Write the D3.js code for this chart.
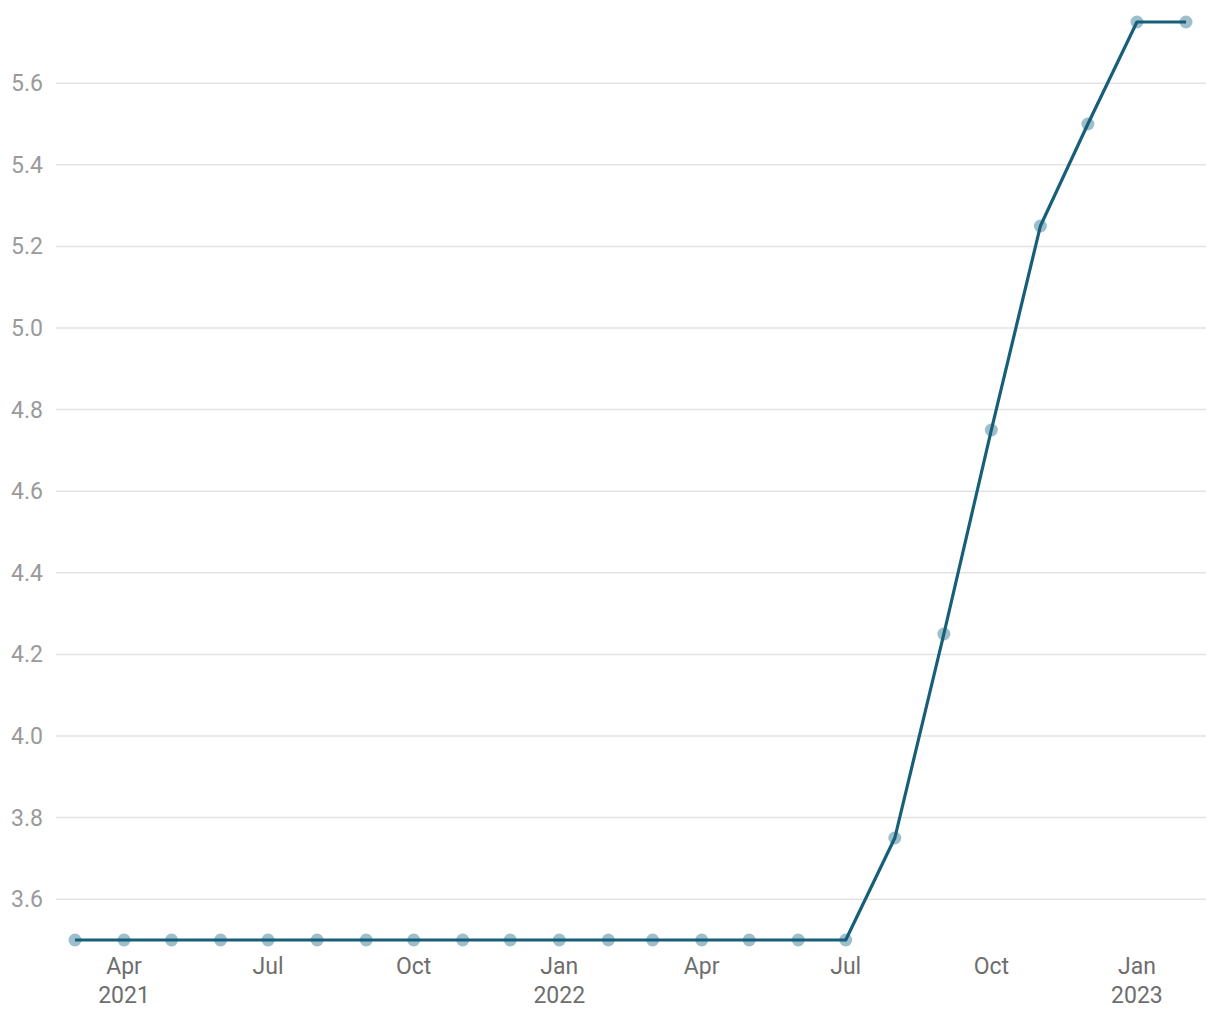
<!DOCTYPE html>
<html><head><meta charset="utf-8">
<script src="https://cdn.jsdelivr.net/npm/d3@7"></script>
<style>body{margin:0;background:#fff;}svg{display:block;font-family:Roboto,sans-serif;}</style>
</head><body><svg id="c" width="1220" height="1020"></svg>
<script>
const months = ["2021-03","2021-04","2021-05","2021-06","2021-07","2021-08","2021-09","2021-10","2021-11","2021-12","2022-01","2022-02","2022-03","2022-04","2022-05","2022-06","2022-07","2022-08","2022-09","2022-10","2022-11","2022-12","2023-01","2023-02"];
const values = [3.5,3.5,3.5,3.5,3.5,3.5,3.5,3.5,3.5,3.5,3.5,3.5,3.5,3.5,3.5,3.5,3.5,3.75,4.25,4.75,5.25,5.5,5.75,5.75];
const yTicks = [3.6,3.8,4.0,4.2,4.4,4.6,4.8,5.0,5.2,5.4,5.6];
const xTickMonths = ["2021-04","2021-07","2021-10","2022-01","2022-04","2022-07","2022-10","2023-01"];

const parse = d3.timeParse("%Y-%m");
const data = months.map((m,i)=>({date:parse(m), v:values[i]}));
const svg = d3.select("#c");
const x = d3.scaleTime().domain(d3.extent(data,d=>d.date)).range([75,1186]);
const y = d3.scaleLinear().domain([3.5,5.75]).range([940,22]);

const gy = svg.append("g");
gy.selectAll("line").data(yTicks).join("line")
  .attr("x1",56).attr("x2",1206).attr("y1",d=>y(d)).attr("y2",d=>y(d))
  .attr("stroke","#e3e3e3").attr("stroke-width",1.5);
gy.selectAll("text").data(yTicks).join("text")
  .attr("x",43).attr("y",d=>y(d)).attr("dy","0.35em").attr("text-anchor","end")
  .attr("fill","#9a9a9a").attr("font-size",23).text(d=>d3.format(".1f")(d));

const gx = svg.append("g");
const xt = gx.selectAll("text").data(xTickMonths.map(parse)).join("text")
  .attr("x",d=>x(d)).attr("y",974).attr("text-anchor","middle")
  .attr("fill","#6e6e6e").attr("font-size",23);
xt.append("tspan").attr("x",d=>x(d)).text(d=>d3.timeFormat("%b")(d));
xt.filter(d=>d.getMonth()===0||d.getMonth()===3&&d.getFullYear()===2021)
  .append("tspan").attr("x",d=>x(d)).attr("dy",29).text(d=>d3.timeFormat("%Y")(d));

svg.append("g").selectAll("circle").data(data).join("circle")
  .attr("cx",d=>x(d.date)).attr("cy",d=>y(d.v)).attr("r",6.5)
  .attr("fill","#9dbfcb");
svg.append("path").datum(data)
  .attr("d",d3.line().x(d=>x(d.date)).y(d=>y(d.v)))
  .attr("fill","none").attr("stroke","#175e78").attr("stroke-width",3.2)
  .attr("stroke-linejoin","round");
</script></body></html>
